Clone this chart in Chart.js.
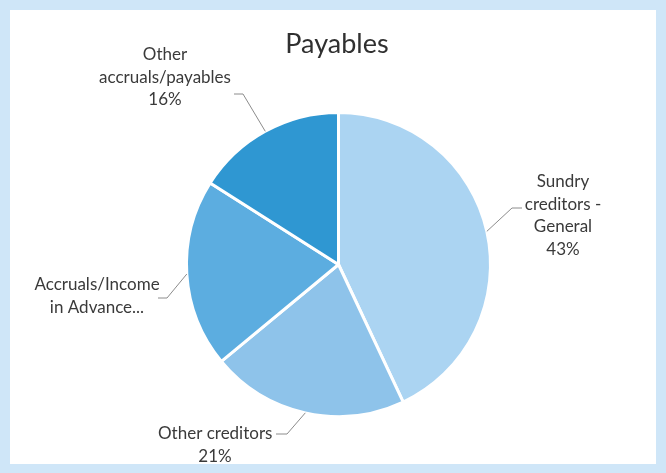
<!DOCTYPE html>
<html>
<head>
<meta charset="utf-8">
<script src="https://cdn.jsdelivr.net/npm/chart.js@4"></script>
<style>
    html, body { margin: 0; padding: 0; background: #cfe6f8; }
    canvas { display: block; }
</style>
</head>
<body>
<canvas id="payables-chart" width="666" height="473"></canvas>
<script>
// Payables split, percent of total
const categories = ["Sundry creditors - General", "Other creditors", "Accruals/Income in Advance", "Other accruals/payables"];
const shares = [43, 21, 20, 16];
const sliceColors = ["#abd4f2", "#8ec3ea", "#5cadE0", "#2f97d2"];

// label text as wrapped on the chart
const labelLines = [
    ["Sundry", "creditors -", "General"],
    ["Other creditors"],
    ["Accruals/Income", "in Advance..."],
    ["Other", "accruals/payables"]
];
const showPercent = [true, true, false, true];

// where each label sits and where its leader line bends
const labelLayout = [
    { x: 563, y: 182, align: "center", elbow: [512, 208], end: [522, 208], pctX: 563 },
    { x: 158, y: 434, align: "left",   elbow: [287, 434], end: [276, 434], pctX: 215 },
    { x: 97,  y: 285, align: "center", elbow: [167, 298], end: [158, 298], pctX: 97 },
    { x: 165, y: 55,  align: "center", elbow: [243, 94],  end: [234, 94],  pctX: 165 }
];

const FONT = "Lato, 'Open Sans', sans-serif";

const panelPlugin = {
    id: "panel",
    beforeDraw(chart) {
        const ctx = chart.ctx;
        ctx.save();
        ctx.fillStyle = "#cfe6f8";
        ctx.fillRect(0, 0, chart.width, chart.height);
        ctx.fillStyle = "#ffffff";
        ctx.fillRect(10, 10, 646, 454);
        ctx.restore();
    }
};

const labelPlugin = {
    id: "sliceLabels",
    afterDraw(chart) {
        const ctx = chart.ctx;
        const meta = chart.getDatasetMeta(0);
        const total = shares.reduce((a, b) => a + b, 0);
        ctx.save();

        // title
        ctx.fillStyle = "#303030";
        ctx.font = "27px " + FONT;
        ctx.textAlign = "center";
        ctx.textBaseline = "middle";
        ctx.fillText("Payables", 337, 44);

        meta.data.forEach((arc, i) => {
            const p = arc.getProps(["x", "y", "startAngle", "endAngle", "outerRadius"], true);
            const mid = (p.startAngle + p.endAngle) / 2;
            const sx = p.x + Math.cos(mid) * p.outerRadius;
            const sy = p.y + Math.sin(mid) * p.outerRadius;
            const lay = labelLayout[i];

            // leader line
            ctx.strokeStyle = "#8c8c8c";
            ctx.lineWidth = 1;
            ctx.beginPath();
            ctx.moveTo(sx, sy);
            ctx.lineTo(lay.elbow[0], lay.elbow[1]);
            ctx.lineTo(lay.end[0], lay.end[1]);
            ctx.stroke();

            // text
            ctx.fillStyle = "#3a3a3a";
            ctx.font = "17px " + FONT;
            ctx.textAlign = lay.align;
            ctx.textBaseline = "middle";
            const lines = labelLines[i];
            lines.forEach((line, j) => {
                ctx.fillText(line, lay.x, lay.y + j * 22.5);
            });
            if (showPercent[i]) {
                ctx.textAlign = "center";
                ctx.fillText(Math.round(shares[i] / total * 100) + "%", lay.pctX, lay.y + lines.length * 22.5);
            }
        });
        ctx.restore();
    }
};

new Chart(document.getElementById("payables-chart"), {
    type: "pie",
    data: {
        labels: categories,
        datasets: [{
            data: shares,
            backgroundColor: sliceColors,
            borderColor: "#ffffff",
            borderWidth: 3
        }]
    },
    options: {
        responsive: false,
        animation: false,
        devicePixelRatio: 1,
        layout: { padding: { left: 185, right: 174, top: 111, bottom: 55 } },
        plugins: {
            legend: { display: false },
            tooltip: { enabled: false },
            title: { display: false }
        }
    },
    plugins: [panelPlugin, labelPlugin]
});
</script>
</body>
</html>
